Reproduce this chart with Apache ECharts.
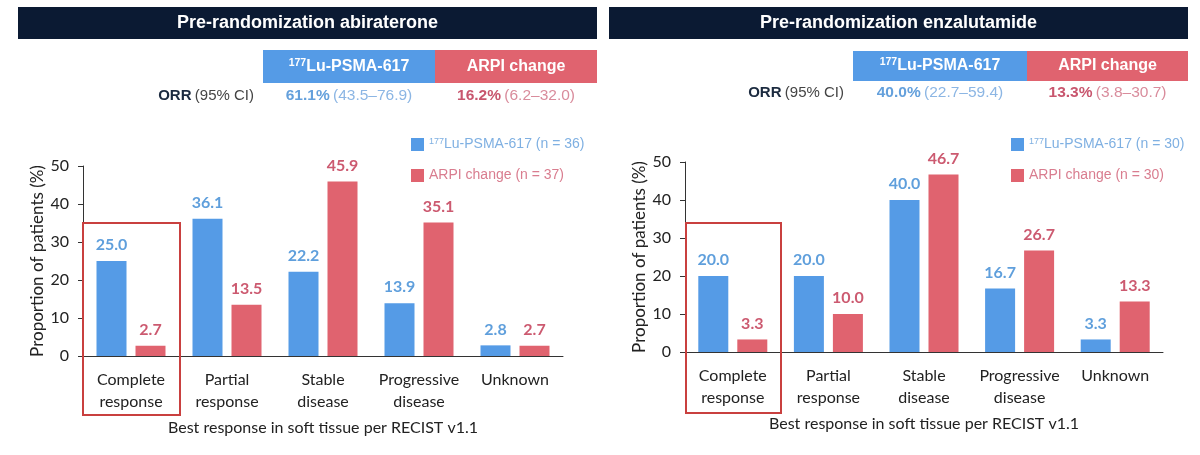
<!DOCTYPE html>
<html lang="en">
<head>
    <meta charset="UTF-8">
    <title>ORR by pre-randomization ARPI</title>
    <script src="https://cdn.jsdelivr.net/npm/echarts@6/dist/echarts.min.js"></script>
    <style>
        body { margin: 0; background: #fff; }
        #main { width: 1200px; height: 455px; }
    </style>
</head>
<body>
    <div id="main"></div>
    <script>
        // data
        var categories = ['Complete\nresponse', 'Partial\nresponse', 'Stable\ndisease', 'Progressive\ndisease', 'Unknown']
        var abiLu = [25.0, 36.1, 22.2, 13.9, 2.8]
        var abiArpi = [2.7, 13.5, 45.9, 35.1, 2.7]
        var enzLu = [20.0, 20.0, 40.0, 16.7, 3.3]
        var enzArpi = [3.3, 10.0, 46.7, 26.7, 13.3]
        var abiN = [36, 37]
        var enzN = [30, 30]
        // ORR: value, lower CI, upper CI
        var abiOrrLu = [61.1, 43.5, 76.9]
        var abiOrrArpi = [16.2, 6.2, 32.0]
        var enzOrrLu = [40.0, 22.7, 59.4]
        var enzOrrArpi = [13.3, 3.8, 30.7]
        var yMin = 0, yMax = 50, yStep = 10

        var BLUE = '#559be6'
        var RED = '#e0636f'
        var BLUE_TXT = '#5f9fdc'
        var RED_TXT = '#cc5a70'
        var NAVY = '#0b1a33'
        var FONT = 'Lato'

        var chart = echarts.init(document.getElementById('main'))

        function luName(n) { return '177Lu-PSMA-617 (n = ' + n + ')' }
        function arpiName(n) { return 'ARPI change (n = ' + n + ')' }

        function orrText(v, cls) {
            return '{' + cls + 'b|' + v[0].toFixed(1) + '%} {' + cls + '|(' + v[1].toFixed(1) + '–' + v[2].toFixed(1) + ')}'
        }

        var orrRich = {
            ob: { fontFamily: 'Liberation Sans', fontSize: 15, fontWeight: 'bold', fill: '#1b2a3f' },
            o: { fontFamily: 'Liberation Sans', fontSize: 15, fill: '#444' },
            bb: { fontFamily: 'Liberation Sans', fontSize: 15.5, fontWeight: 'bold', fill: '#64a0dc' },
            b: { fontFamily: 'Liberation Sans', fontSize: 15.5, fill: '#8cb6e4' },
            rb: { fontFamily: 'Liberation Sans', fontSize: 15.5, fontWeight: 'bold', fill: '#c8566e' },
            r: { fontFamily: 'Liberation Sans', fontSize: 15.5, fill: '#d98c9c' }
        }
        var boxRich = {
            s: { fontFamily: 'Liberation Sans', fontSize: 10.5, fontWeight: 'bold', fill: '#fff', padding: [0, 0, 7, 0] },
            t: { fontFamily: 'Liberation Sans', fontSize: 16, fontWeight: 'bold', fill: '#fff' }
        }

        function panelGraphics(h, boxes, orrY, orrLu, orrArpi, outline) {
            return [
                { type: 'rect', shape: { x: h.x, y: 7, width: h.w, height: 32 }, style: { fill: NAVY } },
                { type: 'text', x: h.x + h.w / 2, y: 23, style: { text: h.title, fill: '#fff', font: 'bold 18px "Liberation Sans"', align: 'center', verticalAlign: 'middle' } },
                { type: 'rect', shape: { x: boxes.x0, y: boxes.y, width: boxes.x1 - boxes.x0, height: boxes.h }, style: { fill: BLUE } },
                { type: 'rect', shape: { x: boxes.x1, y: boxes.y, width: boxes.x2 - boxes.x1, height: boxes.h }, style: { fill: RED } },
                { type: 'text', x: (boxes.x0 + boxes.x1) / 2, y: boxes.y + boxes.h / 2, style: { text: '{s|177}{t|Lu-PSMA-617}', rich: boxRich, align: 'center', verticalAlign: 'middle' } },
                { type: 'text', x: (boxes.x1 + boxes.x2) / 2, y: boxes.y + boxes.h / 2, style: { text: '{t|ARPI change}', rich: boxRich, align: 'center', verticalAlign: 'middle' } },
                { type: 'text', x: boxes.x0 - 9, y: orrY, style: { text: '{ob|ORR} {o|(95% CI)}', rich: orrRich, align: 'right', verticalAlign: 'middle' } },
                { type: 'text', x: (boxes.x0 + boxes.x1) / 2, y: orrY, style: { text: orrText(orrLu, 'b'), rich: orrRich, align: 'center', verticalAlign: 'middle' } },
                { type: 'text', x: (boxes.x1 + boxes.x2) / 2, y: orrY, style: { text: orrText(orrArpi, 'r'), rich: orrRich, align: 'center', verticalAlign: 'middle' } },
                { type: 'rect', z: 100, shape: outline, style: { fill: 'none', stroke: '#c9403f', lineWidth: 2 } }
            ]
        }

        var legendRich = {
            s: { fontFamily: 'Liberation Sans', fontSize: 9, color: '#7fb0e2', padding: [0, 0, 6, 0] },
            b: { fontFamily: 'Liberation Sans', fontSize: 14, color: '#7fb0e2' },
            r: { fontFamily: 'Liberation Sans', fontSize: 14, color: '#d97d8f' }
        }
        function legendFmt(name) {
            if (name.indexOf('177') === 0) return '{s|177}{b|' + name.slice(3) + '}'
            return '{r|' + name + '}'
        }

        function makeLegend(left, names) {
            return {
                orient: 'vertical', left: left, top: 137, padding: 0,
                itemWidth: 13, itemHeight: 13, itemGap: 17, icon: 'rect',
                data: names, formatter: legendFmt, textStyle: { rich: legendRich }
            }
        }

        function makeX(idx) {
            return {
                type: 'category', gridIndex: idx, data: categories,
                name: 'Best response in soft tissue per RECIST v1.1',
                nameLocation: 'middle', nameGap: 64,
                nameTextStyle: { fontFamily: FONT, fontSize: 16, color: '#222' },
                axisLine: { lineStyle: { color: '#333', width: 1 } },
                axisTick: { length: 5, lineStyle: { color: '#333' } },
                axisLabel: { fontFamily: FONT, fontSize: 16, color: '#222', lineHeight: 22, margin: 13, interval: 0 }
            }
        }

        function makeY(idx) {
            return {
                type: 'value', gridIndex: idx, min: yMin, max: yMax, interval: yStep,
                name: 'Proportion of patients (%)', nameLocation: 'middle', nameGap: 37,
                nameTextStyle: { fontFamily: FONT, fontSize: 17, color: '#222' },
                axisLine: { show: true, lineStyle: { color: '#333', width: 1 } },
                axisTick: { show: true, length: 5, lineStyle: { color: '#333' } },
                axisLabel: { fontFamily: FONT, fontSize: 16, color: '#222', margin: 14 },
                splitLine: { show: false }
            }
        }

        function makeBar(name, data, idx, color, txt) {
            return {
                name: name, type: 'bar', xAxisIndex: idx, yAxisIndex: idx,
                data: data, barWidth: 30, barGap: '30%',
                itemStyle: { color: color },
                label: {
                    show: true, position: 'top', distance: 8,
                    fontFamily: FONT, fontSize: 16, fontWeight: 'bold', color: txt,
                    formatter: function (p) { return p.value.toFixed(1) }
                }
            }
        }

        var option = {
            animation: false,
            backgroundColor: '#fff',
            grid: [
                { left: 83, top: 166, width: 480, height: 190 },
                { left: 685, top: 162, width: 478, height: 190 }
            ],
            legend: [
                makeLegend(411, [luName(abiN[0]), arpiName(abiN[1])]),
                makeLegend(1011, [luName(enzN[0]), arpiName(enzN[1])])
            ],
            xAxis: [makeX(0), makeX(1)],
            yAxis: [makeY(0), makeY(1)],
            series: [
                makeBar(luName(abiN[0]), abiLu, 0, BLUE, BLUE_TXT),
                makeBar(arpiName(abiN[1]), abiArpi, 0, RED, RED_TXT),
                makeBar(luName(enzN[0]), enzLu, 1, BLUE, BLUE_TXT),
                makeBar(arpiName(enzN[1]), enzArpi, 1, RED, RED_TXT)
            ],
            graphic: panelGraphics(
                { x: 18, w: 579, title: 'Pre-randomization abiraterone' },
                { x0: 263, x1: 435, x2: 597, y: 50, h: 33 },
                96, abiOrrLu, abiOrrArpi,
                { x: 83, y: 223, width: 97, height: 192 }
            ).concat(panelGraphics(
                { x: 609, w: 579, title: 'Pre-randomization enzalutamide' },
                { x0: 853, x1: 1027, x2: 1188, y: 51, h: 30 },
                93, enzOrrLu, enzOrrArpi,
                { x: 686, y: 223, width: 95, height: 190 }
            ))
        }

        chart.setOption(option)
    </script>
</body>
</html>
